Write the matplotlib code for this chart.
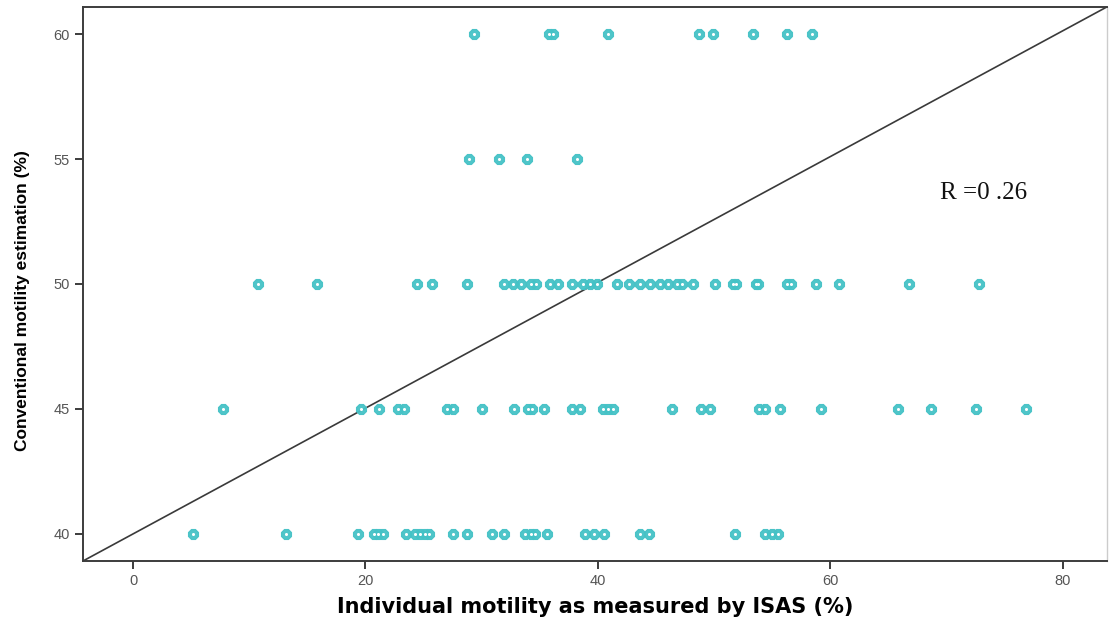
import matplotlib as mpl
mpl.use('Agg')
import matplotlib.pyplot as plt

# ---------------------------------
# Data (ISAS motility vs. conventional estimate)
isas_60 = [29.3, 35.8, 36.1, 40.9, 48.7, 49.9, 53.3, 56.3, 58.4]
isas_55 = [28.9, 31.5, 33.9, 38.2]
isas_50 = [10.75, 15.8, 24.4, 25.7, 28.7, 31.9, 32.7, 33.4, 34.2, 34.7,
           35.9, 36.6, 37.8, 38.7, 39.3, 39.9, 41.6, 42.7, 43.6, 44.5,
           45.3, 46.0, 46.8, 47.2, 48.2, 50.1, 51.6, 51.9, 53.6, 53.8,
           56.3, 56.6, 58.8, 60.7, 66.8, 72.8]
isas_45 = [7.7, 19.6, 21.2, 22.8, 23.3, 27.0, 27.5, 30.0, 32.8, 34.0,
           34.3, 35.4, 37.8, 38.5, 40.4, 40.9, 41.3, 46.4, 48.9, 49.6,
           53.9, 54.4, 55.7, 59.2, 65.8, 68.7, 72.5, 76.8]
isas_40 = [5.2, 13.2, 19.4, 20.7, 21.1, 21.5, 23.5, 24.3, 24.7, 25.1,
           25.5, 27.5, 28.7, 30.9, 31.9, 33.7, 34.2, 34.6, 35.6, 38.9,
           39.7, 40.5, 43.6, 44.4, 51.8, 54.4, 55.0, 55.5]
conv_levels = [60, 55, 50, 45, 40]
isas_rows = [isas_60, isas_55, isas_50, isas_45, isas_40]

r_label = 'R =0 .26'
x_ticks = [0, 20, 40, 60, 80]
y_ticks = [40, 45, 50, 55, 60]

point_color = '#45C2C6'

# ---------------------------------
fig = plt.figure(figsize=(11.1, 6.24), dpi=100)
ax = fig.add_axes([0.0748, 0.101, 0.9225, 0.888])

for level, row in zip(conv_levels, isas_rows):
    ys = [level] * len(row)
    # teal gear-like dot with a small white centre (SPSS style)
    ax.plot(row, ys, linestyle='none', marker='8', markersize=7.8,
            markerfacecolor=point_color, markeredgecolor=point_color,
            markeredgewidth=0.8, alpha=0.95, zorder=3)
    ax.plot(row, ys, linestyle='none', marker='o', markersize=2.2,
            markerfacecolor='white', markeredgewidth=0, zorder=4)

# SPSS-style reference line, corner to corner
ax.plot([0, 1], [0, 1], transform=ax.transAxes, color='#3a3a3a', lw=1.2, zorder=2)

ax.text(69.4, 53.65, r_label, family='Liberation Serif', fontsize=18,
        va='center', ha='left', color='#111111')

ax.set_xlim(-4.3, 83.8)
ax.set_ylim(38.9, 61.1)
ax.set_xticks(x_ticks)
ax.set_yticks(y_ticks)

for side in ['left', 'bottom', 'top']:
    ax.spines[side].set_color('#3c3c3c')
    ax.spines[side].set_linewidth(1.4)
ax.spines['right'].set_color('#cccccc')
ax.spines['right'].set_linewidth(1.0)

ax.tick_params(axis='both', direction='out', length=6, width=1.4, color='#3c3c3c',
               labelsize=10.5, labelcolor='#555555')
for lab in ax.get_xticklabels() + ax.get_yticklabels():
    lab.set_family('Liberation Sans')

ax.set_xlabel('Individual motility as measured by ISAS (%)', family='DejaVu Sans',
              fontsize=15, fontweight='bold', labelpad=6)
ax.set_ylabel('Conventional motility estimation (%)', family='Liberation Sans',
              fontsize=12.5, fontweight='bold')
ax.yaxis.set_label_coords(-0.052, 0.47)

plt.savefig('out.png', dpi=100)
plt.close(fig)
